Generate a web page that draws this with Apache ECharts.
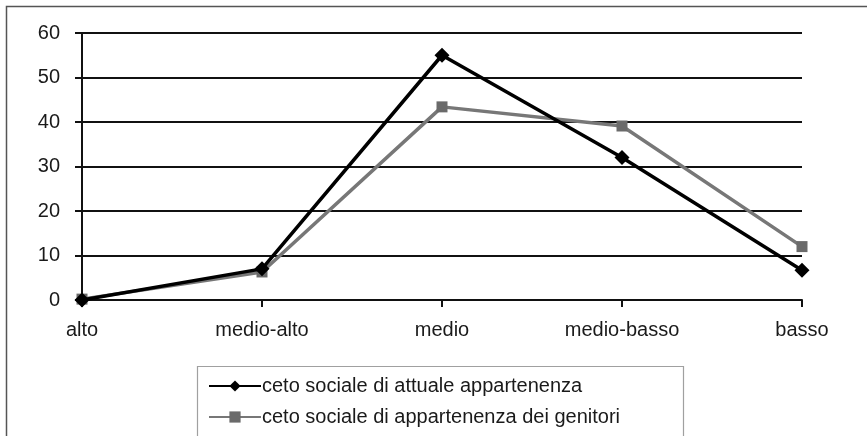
<!DOCTYPE html>
<html>
<head>
<meta charset="utf-8">
<script src="https://cdn.jsdelivr.net/npm/echarts@6/dist/echarts.min.js"></script>
<style>
  html, body { margin: 0; padding: 0; background: #fff; }
  #chart { width: 867px; height: 436px; }
</style>
</head>
<body>
<div id="chart"></div>
<script>
// Ceto sociale: attuale vs. genitori (valori percentuali)
const categories = ['alto', 'medio-alto', 'medio', 'medio-basso', 'basso'];
const attuale = [0, 7, 55, 32, 6.7];
const genitori = [0.2, 6.3, 43.4, 39.1, 12];
const yTicks = [0, 10, 20, 30, 40, 50, 60];

const seriesNames = [
  'ceto sociale di attuale appartenenza',
  'ceto sociale di appartenenza dei genitori'
];

const FONT = '"Liberation Sans", Arial, sans-serif';

const chart = echarts.init(document.getElementById('chart'), null, { renderer: 'canvas' });

chart.setOption({
  backgroundColor: '#ffffff',
  animation: false,
  textStyle: { fontFamily: FONT, color: '#1a1a1a' },
  grid: { left: 82, right: 65, top: 33, bottom: 136 },
  xAxis: {
    type: 'category',
    data: categories,
    boundaryGap: false,
    axisLine: { lineStyle: { color: '#111', width: 2 } },
    axisTick: { show: true, inside: false, length: 7, alignWithLabel: true, lineStyle: { color: '#111', width: 2 } },
    axisLabel: { fontSize: 20, color: '#1a1a1a', margin: 20, fontFamily: FONT }
  },
  yAxis: {
    type: 'value',
    min: yTicks[0],
    max: yTicks[yTicks.length - 1],
    interval: yTicks[1] - yTicks[0],
    axisLine: { show: true, lineStyle: { color: '#111', width: 2 } },
    axisTick: { show: true, inside: false, length: 7, lineStyle: { color: '#111', width: 2 } },
    axisLabel: { fontSize: 20, color: '#1a1a1a', margin: 22, fontFamily: FONT },
    splitLine: { show: true, lineStyle: { color: '#111', width: 2 } }
  },
  legend: {
    orient: 'vertical',
    left: 203,
    top: 371,
    itemWidth: 52,
    itemHeight: 14,
    itemGap: 11,
    textStyle: { fontSize: 20, color: '#1a1a1a', fontFamily: FONT, padding: [0, 0, 0, -4] },
    data: seriesNames
  },
  graphic: [
    {
      type: 'polyline',
      shape: { points: [[6.5, 436], [6.5, 6.5], [867, 6.5]] },
      style: { stroke: '#555', lineWidth: 1.5, fill: null },
      silent: true
    },
    {
      type: 'rect',
      shape: { x: 197.5, y: 366.5, width: 486, height: 120 },
      style: { stroke: '#a0a0a0', lineWidth: 1.2, fill: null },
      silent: true,
      z: -1
    }
  ],
  series: [
    {
      name: seriesNames[0],
      type: 'line',
      data: attuale,
      symbol: 'diamond',
      symbolSize: 15,
      lineStyle: { color: '#000', width: 3.5 },
      itemStyle: { color: '#000' },
      z: 3
    },
    {
      name: seriesNames[1],
      type: 'line',
      data: genitori,
      symbol: 'rect',
      symbolSize: 11,
      lineStyle: { color: '#777', width: 3.5 },
      itemStyle: { color: '#6a6a6a' },
      z: 2
    }
  ]
});
</script>
</body>
</html>
